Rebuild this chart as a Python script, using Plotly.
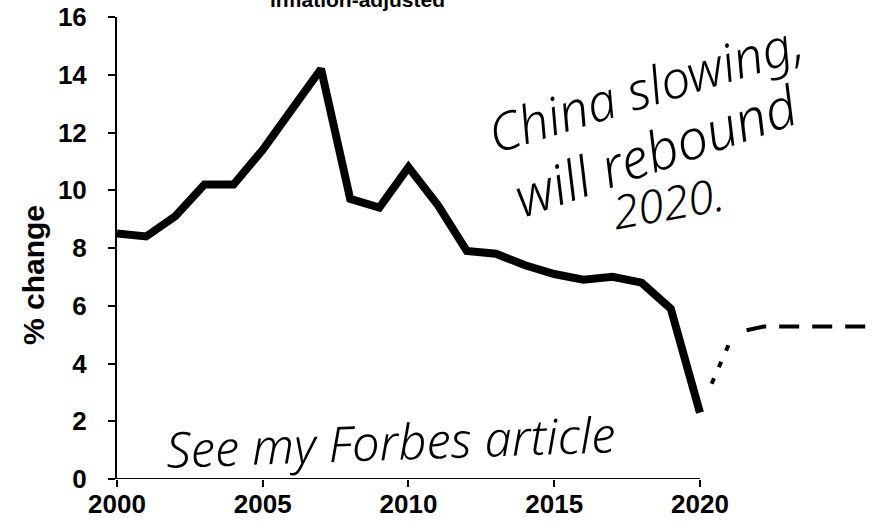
import plotly.graph_objects as go

years = list(range(2000, 2021))
growth = [8.5, 8.4, 9.1, 10.2, 10.2, 11.4, 12.8, 14.2, 9.7, 9.4, 10.8,
          9.5, 7.9, 7.8, 7.4, 7.1, 6.9, 7.0, 6.8, 5.9, 2.3]

proj_curve_x = [2020.4, 2020.7, 2021.05]
proj_curve_y = [3.3, 4.0, 4.8]
proj_flat_x = [2021.6, 2022.2, 2025.7]
proj_flat_y = [5.15, 5.28, 5.28]

x_ticks = [2000, 2005, 2010, 2015, 2020]
y_ticks = [0, 2, 4, 6, 8, 10, 12, 14, 16]

FONT = "Liberation Sans, Arial, sans-serif"
HAND = "Noto Sans, DejaVu Sans, sans-serif"

fig = go.Figure()
fig.add_trace(go.Scatter(x=years, y=growth, mode="lines",
                         line=dict(color="black", width=8), cliponaxis=False,
                         showlegend=False))
fig.add_trace(go.Scatter(x=proj_curve_x, y=proj_curve_y, mode="lines",
                         line=dict(color="black", width=4, dash="6px,12px"),
                         cliponaxis=False, showlegend=False))
fig.add_trace(go.Scatter(x=proj_flat_x, y=proj_flat_y, mode="lines",
                         line=dict(color="black", width=4, dash="20px,13px"),
                         cliponaxis=False, showlegend=False))

fig.add_shape(type="line", x0=2000, x1=2020, y0=0, y1=0, xref="x", yref="y",
              line=dict(color="black", width=2))

fig.update_layout(
    width=876, height=529,
    margin=dict(l=117, r=0, t=17, b=50, autoexpand=False),
    paper_bgcolor="white", plot_bgcolor="white",
    font=dict(family=FONT, color="black"),
    xaxis=dict(range=[2000, 2026.04], tickvals=x_ticks,
               ticktext=[str(v) for v in x_ticks], automargin=False,
               showline=False, showgrid=False, zeroline=False,
               ticks="outside", ticklen=7, tickwidth=2, tickcolor="black",
               ticklabelstandoff=-5,
               tickfont=dict(family=FONT, size=26, weight="bold")),
    yaxis=dict(range=[0, 16], tickvals=y_ticks, automargin=False,
               showline=True, linecolor="black", linewidth=2,
               showgrid=False, zeroline=False,
               ticks="outside", ticklen=7, tickwidth=2, tickcolor="black",
               ticklabelstandoff=16,
               tickfont=dict(family=FONT, size=26, weight="bold")),
)

annotations = [
    dict(text="inflation-adjusted", xref="paper", yref="paper",
         x=(357 - 117) / 759, y=(479 + 1) / 462, xanchor="center", yanchor="middle",
         showarrow=False, font=dict(family=FONT, size=21, weight="bold")),
    dict(text="% change", xref="paper", yref="paper",
         x=-(117 - 33) / 759, y=(479 - 275) / 462, xanchor="center", yanchor="middle",
         textangle=-90, showarrow=False,
         font=dict(family=FONT, size=30, weight="bold")),
    dict(text="China slowing,", xref="x", yref="y", x=2018.1, y=13.6,
         textangle=-17, showarrow=False,
         font=dict(family=HAND, size=52, style="italic", weight=300)),
    dict(text="will rebound", xref="x", yref="y", x=2018.5, y=11.4,
         textangle=-19, showarrow=False,
         font=dict(family=HAND, size=55, style="italic", weight=300)),
    dict(text="2020.", xref="x", yref="y", x=2018.9, y=9.6,
         textangle=-10, showarrow=False,
         font=dict(family=HAND, size=46, style="italic", weight=300)),
    dict(text="See my Forbes article", xref="x", yref="y", x=2009.4, y=1.3,
         textangle=-2, showarrow=False,
         font=dict(family=HAND, size=49, style="italic", weight=300)),
]
fig.update_layout(annotations=annotations)

fig.write_html("out.html", config={"displayModeBar": False},
               post_script="document.body.style.margin='0';document.body.style.overflow='hidden';")
